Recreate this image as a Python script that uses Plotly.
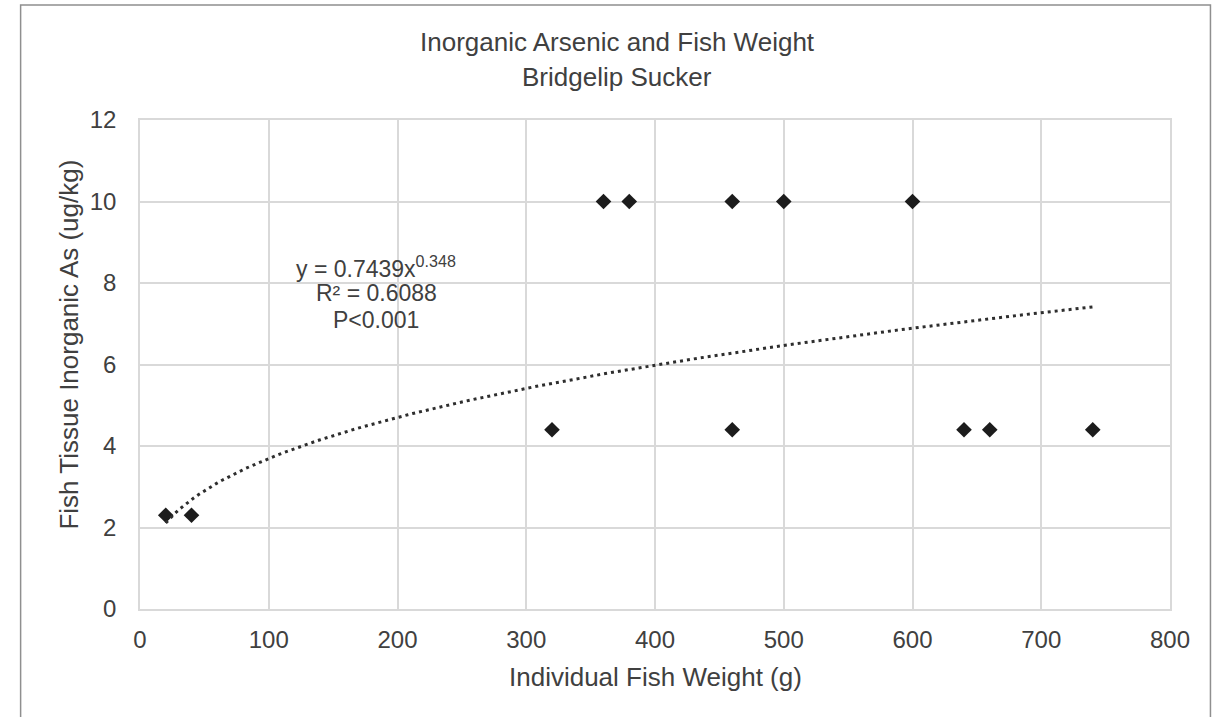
import plotly.graph_objects as go
import numpy as np

# Data
fish_weight_g = [20, 40, 320, 360, 380, 460, 460, 500, 600, 640, 660, 740]
inorganic_as = [2.3, 2.3, 4.4, 10, 10, 10, 4.4, 10, 10, 4.4, 4.4, 4.4]

# Power trendline coefficients shown on chart
trend_a = 0.7439
trend_b = 0.348
trend_x_min = 20
trend_x_max = 740

x_ticks = [0, 100, 200, 300, 400, 500, 600, 700, 800]
y_ticks = [0, 2, 4, 6, 8, 10, 12]

title_lines = ["Inorganic Arsenic and Fish Weight", "Bridgelip Sucker"]
eq_lines = ["y = 0.7439x<sup>0.348</sup>", "R² = 0.6088", "P<0.001"]

tx = np.linspace(trend_x_min, trend_x_max, 200)
ty = trend_a * tx ** trend_b

TEXT = "#404040"
GRID = "#d9d9d9"
FONT = "Liberation Sans, Arial, sans-serif"

fig = go.Figure()
fig.add_trace(go.Scatter(
    x=fish_weight_g, y=inorganic_as, mode="markers",
    marker=dict(symbol="diamond", size=12, color="#1c1c1c"),
    showlegend=False, hoverinfo="x+y"))
fig.add_trace(go.Scatter(
    x=tx, y=ty, mode="lines",
    line=dict(color="#2e2e2e", width=3, dash="3px,4px"),
    showlegend=False, hoverinfo="skip"))

L, R, T, B = 139.5, 52.5, 120, 108
W, H = 1223, 717
pw, ph = W - L - R, H - T - B

def px_x(p):
    return (p - L) / pw

def px_y(p):
    return (H - B - p) / ph

annotations = [
    dict(text=title_lines[0], xref="paper", yref="paper",
         x=px_x(617), y=px_y(42), xanchor="center", yanchor="middle",
         showarrow=False, font=dict(size=26, color=TEXT)),
    dict(text=title_lines[1], xref="paper", yref="paper",
         x=px_x(617), y=px_y(77), xanchor="center", yanchor="middle",
         showarrow=False, font=dict(size=26, color=TEXT)),
    dict(text="Individual Fish Weight (g)", xref="paper", yref="paper",
         x=px_x(656), y=px_y(677), xanchor="center", yanchor="middle",
         showarrow=False, font=dict(size=26, color=TEXT)),
    dict(text="Fish Tissue Inorganic As (ug/kg)", xref="paper", yref="paper",
         x=px_x(68), y=px_y(345), xanchor="center", yanchor="middle",
         textangle=-90, showarrow=False, font=dict(size=26, color=TEXT)),
]
for line, yp in zip(eq_lines, [267, 293, 320]):
    annotations.append(dict(
        text=line, xref="paper", yref="paper", x=px_x(376), y=px_y(yp),
        xanchor="center", yanchor="middle", showarrow=False,
        font=dict(size=23, color=TEXT)))

fig.update_layout(
    width=W, height=H,
    margin=dict(l=L, r=R, t=T, b=B),
    paper_bgcolor="white", plot_bgcolor="white",
    font=dict(family=FONT, color=TEXT, size=24),
    xaxis=dict(range=[0, 800], tickvals=x_ticks, showgrid=True, gridcolor=GRID,
               gridwidth=1.5, zeroline=False, showline=True, linecolor=GRID,
               linewidth=1.5, mirror=True, ticks="outside", ticklen=8,
               tickcolor="rgba(0,0,0,0)", tickfont=dict(size=24, color=TEXT)),
    yaxis=dict(range=[0, 12], tickvals=y_ticks, showgrid=True, gridcolor=GRID,
               gridwidth=1.5, zeroline=False, showline=True, linecolor=GRID,
               linewidth=1.5, mirror=True, ticks="outside", ticklen=17,
               tickcolor="rgba(0,0,0,0)", tickfont=dict(size=24, color=TEXT)),
    annotations=annotations,
    shapes=[
        dict(type="rect", xref="paper", yref="paper",
             x0=px_x(20), x1=px_x(1211), y0=px_y(740), y1=px_y(5),
             line=dict(color="#8f8f8f", width=1.5), fillcolor="rgba(0,0,0,0)",
             layer="below"),
    ],
)

fig.write_html("out.html", config={"displayModeBar": False},
               post_script="document.body.style.margin='0px';")
